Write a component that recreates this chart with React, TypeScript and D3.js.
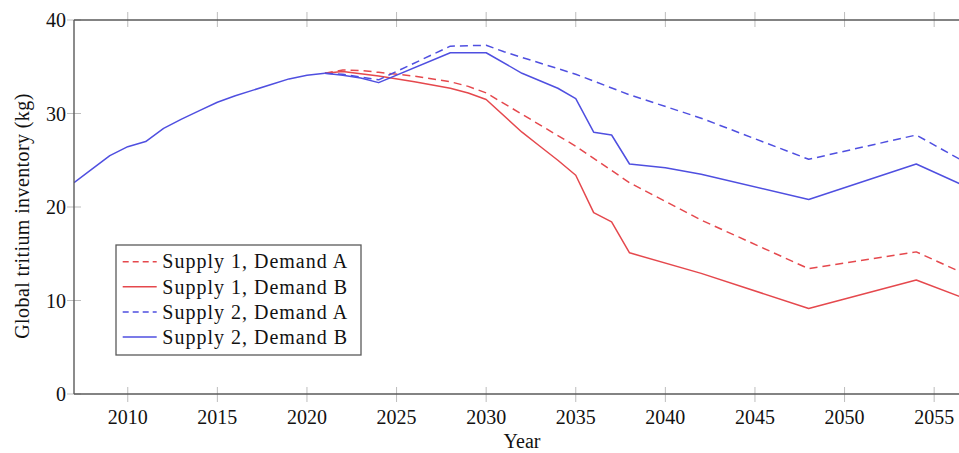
import React from "react";
import * as d3 from "d3";

// ---- data ----
const histYears = [2007, 2008, 2009, 2010, 2011, 2012, 2013, 2014, 2015, 2016, 2017, 2018, 2019, 2020, 2021];
const histValues = [22.6, 24.05, 25.5, 26.45, 27.0, 28.4, 29.4, 30.3, 31.2, 31.9, 32.5, 33.1, 33.7, 34.1, 34.3];

const s1aYears = [2022, 2023, 2024, 2026, 2028, 2029, 2030, 2035, 2038, 2042, 2048, 2054, 2057];
const s1aValues = [34.65, 34.6, 34.4, 34.0, 33.4, 32.9, 32.2, 26.5, 22.6, 18.6, 13.4, 15.2, 12.6];

const s1bYears = [2022, 2024, 2026, 2028, 2029, 2030, 2032, 2033, 2034, 2035, 2036, 2037, 2038, 2042, 2048, 2054, 2057];
const s1bValues = [34.5, 34.0, 33.4, 32.7, 32.2, 31.5, 28.0, 26.5, 25.0, 23.4, 19.4, 18.4, 15.1, 12.9, 9.15, 12.2, 10.0];

const s2aYears = [2022, 2023, 2024, 2028, 2030, 2031, 2035, 2038, 2042, 2048, 2054, 2057];
const s2aValues = [34.2, 33.9, 33.6, 37.2, 37.3, 36.6, 34.2, 32.0, 29.5, 25.1, 27.7, 24.5];

const s2bYears = [2022, 2023, 2024, 2028, 2030, 2032, 2034, 2035, 2036, 2037, 2038, 2040, 2042, 2048, 2054, 2057];
const s2bValues = [34.1, 33.8, 33.3, 36.5, 36.5, 34.3, 32.7, 31.6, 28.0, 27.7, 24.6, 24.2, 23.5, 20.8, 24.6, 22.0];

const seriesNames = ["Supply 1, Demand A", "Supply 1, Demand B", "Supply 2, Demand A", "Supply 2, Demand B"];
const seriesYears = [s1aYears, s1bYears, s2aYears, s2bYears];
const seriesValues = [s1aValues, s1bValues, s2aValues, s2bValues];
const seriesColors = ["#e5484d", "#e5484d", "#4f4fe0", "#4f4fe0"];
const seriesDashed = [true, false, true, false];

const xTicks = [2010, 2015, 2020, 2025, 2030, 2035, 2040, 2045, 2050, 2055];
const yTicks = [0, 10, 20, 30, 40];

const W = 959;
const H = 453;
const FONT = "'Liberation Serif', 'Times New Roman', serif";

export default function App() {
  const x = d3.scaleLinear().domain([2007, 2057]).range([74, 970]);
  const y = d3.scaleLinear().domain([0, 40]).range([394, 20]);
  const line = d3
    .line<[number, number]>()
    .x((d) => x(d[0]))
    .y((d) => y(d[1]));

  const histPts: [number, number][] = histYears.map((yr, i) => [yr, histValues[i]]);

  const axisColor = "#5a5a5a";
  const tickColor = "#bdbdbd";

  const legX = 116;
  const legY = 245;
  const legW = 245;
  const legH = 110;

  return (
    <svg
      width={W}
      height={H}
      style={{ position: "absolute", left: 0, top: 0, background: "#fff" }}
      fontFamily={FONT}
    >
      <defs>
        <clipPath id="plotclip">
          <rect x={x(2007)} y={y(40) - 2} width={x(2057) - x(2007)} height={y(0) - y(40) + 4} />
        </clipPath>
      </defs>
      <rect x={0} y={0} width={W} height={H} fill="#fff" />

      {/* ticks */}
      {xTicks.map((t) => (
        <g key={"xt" + t}>
          <line x1={x(t)} x2={x(t)} y1={y(0) - 7} y2={y(0) + 8} stroke={tickColor} strokeWidth={1} />
          <line x1={x(t)} x2={x(t)} y1={y(40) - 8} y2={y(40) + 7} stroke={tickColor} strokeWidth={1} />
          <text x={x(t)} y={423.5} textAnchor="middle" fontSize={20} fill="#111">
            {t}
          </text>
        </g>
      ))}
      {yTicks.map((t) => (
        <g key={"yt" + t}>
          <line x1={x(2007) - 7} x2={x(2007) + 7} y1={y(t)} y2={y(t)} stroke={tickColor} strokeWidth={1} />
          <text x={66} y={y(t) + 7} textAnchor="end" fontSize={20} fill="#111">
            {t}
          </text>
        </g>
      ))}

      {/* lines */}
      <g clipPath="url(#plotclip)" fill="none" strokeLinejoin="round">
        {seriesNames.map((name, si) => {
          const pts: [number, number][] = [
            histPts[histPts.length - 1],
            ...seriesYears[si].map((yr, i) => [yr, seriesValues[si][i]] as [number, number]),
          ];
          return (
            <path
              key={name}
              d={line(pts) || ""}
              stroke={seriesColors[si]}
              strokeWidth={1.5}
              strokeDasharray={seriesDashed[si] ? "8 5" : undefined}
            />
          );
        })}
        <path d={line(histPts) || ""} stroke={seriesColors[3]} strokeWidth={1.5} />
      </g>

      {/* axis lines */}
      <line x1={x(2007)} x2={x(2057)} y1={y(0)} y2={y(0)} stroke={axisColor} strokeWidth={1.4} />
      <line x1={x(2007)} x2={x(2057)} y1={y(40)} y2={y(40)} stroke={axisColor} strokeWidth={1.4} />
      <line x1={x(2007)} x2={x(2007)} y1={y(0)} y2={y(40)} stroke={axisColor} strokeWidth={1.4} />

      {/* legend */}
      <rect x={legX} y={legY} width={legW} height={legH} fill="#fff" stroke={axisColor} strokeWidth={1.3} />
      {seriesNames.map((name, i) => {
        const cy = 261.7 + i * 25.1;
        return (
          <g key={"leg" + name}>
            <line
              x1={122.7}
              x2={156.7}
              y1={cy}
              y2={cy}
              stroke={seriesColors[i]}
              strokeWidth={1.5}
              strokeDasharray={seriesDashed[i] ? "6 4" : undefined}
            />
            <text x={162.3} y={cy + 6.7} fontSize={20} letterSpacing={1} fill="#111">
              {name}
            </text>
          </g>
        );
      })}

      {/* axis labels */}
      <text x={522} y={447.5} textAnchor="middle" fontSize={20} fill="#111">
        Year
      </text>
      <text
        transform={`translate(29,216) rotate(-90)`}
        textAnchor="middle"
        fontSize={20}
        letterSpacing={0.4}
        fill="#111"
      >
        Global tritium inventory (kg)
      </text>
    </svg>
  );
}
